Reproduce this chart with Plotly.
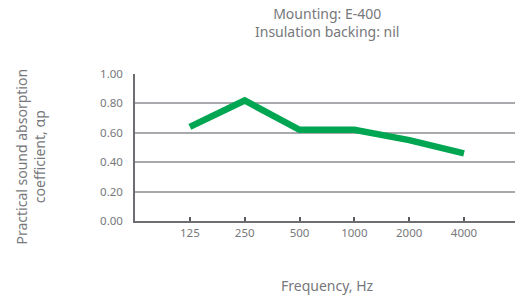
import plotly.graph_objects as go

categories = ["125", "250", "500", "1000", "2000", "4000"]
absorption = [0.64, 0.82, 0.62, 0.62, 0.55, 0.46]
y_ticks = [0.0, 0.2, 0.4, 0.6, 0.8, 1.0]
y_tick_labels = ["0.00", "0.20", "0.40", "0.60", "0.80", "1.00"]

TXT = "#77787b"
FONT = "Noto Sans"

W, H = 515, 297
L, R, T, B = 135, 0, 74, 76

fig = go.Figure()
fig.add_trace(go.Scatter(
    x=categories, y=absorption, mode="lines",
    line=dict(color="#00a651", width=6.5), hoverinfo="skip", showlegend=False,
))

fig.update_layout(
    width=W, height=H,
    margin=dict(l=L, r=R, t=T, b=B, autoexpand=False),
    paper_bgcolor="white", plot_bgcolor="white",
    font=dict(family=FONT, color=TXT, size=11),
    xaxis=dict(
        type="category", range=[-1.0, 5.93], automargin=False,
        showgrid=False, showline=True, linecolor="#6d6e71", linewidth=1.5,
        ticks="inside", ticklen=4, tickcolor="#5a5a5a", tickwidth=1.5,
        tickfont=dict(size=11.5, color=TXT, family=FONT),
    ),
    yaxis=dict(
        range=[0, 1.0], tickvals=y_ticks, ticktext=y_tick_labels, automargin=False,
        showgrid=True, gridcolor="#a7a9ac", gridwidth=1.5,
        showline=True, linecolor="#6d6e71", linewidth=1.5,
        zeroline=False, ticks="", ticklen=0, ticklabelstandoff=8,
        tickfont=dict(size=11.5, color=TXT, family=FONT),
    ),
)

pw = W - L - R
ph = H - T - B
def px(x):
    return (x - L) / pw
def py(y):
    return (H - B - y) / ph

fig.add_annotation(text="Mounting: E-400<br>Insulation backing: nil",
                   x=px(327), y=py(22), xref="paper", yref="paper",
                   showarrow=False, xanchor="center", yanchor="middle",
                   font=dict(size=14, color=TXT, family=FONT))
fig.add_annotation(text="Practical sound absorption<br>coefficient, αp",
                   x=px(29.5), y=py(157), xref="paper", yref="paper",
                   showarrow=False, xanchor="center", yanchor="middle", textangle=-90,
                   font=dict(size=14, color=TXT, family=FONT))
fig.add_annotation(text="Frequency, Hz",
                   x=px(327.5), y=py(285.5), xref="paper", yref="paper",
                   showarrow=False, xanchor="center", yanchor="middle",
                   font=dict(size=14, color=TXT, family=FONT))
fig.add_shape(type="line", xref="paper", yref="y", x0=0, x1=1, y0=0.6, y1=0.6,
              line=dict(color="#58595b", width=1.5), layer="below")

fig.write_html("out.html", config={"displayModeBar": False},
               post_script="document.body.style.margin='0';")
